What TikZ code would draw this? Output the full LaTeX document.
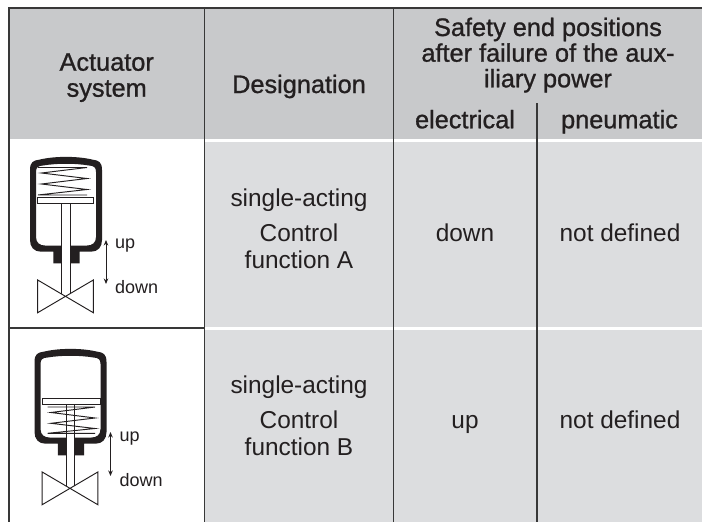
\documentclass[tikz,border=0pt]{standalone}
\usepackage{fontspec}
\setmainfont{Liberation Sans}
\newfontface\hdrfont{Liberation Sans}[FakeBold=1.0]
\usetikzlibrary{arrows.meta}
\definecolor{hdrgray}{HTML}{C8C9CB}
\definecolor{bodygray}{HTML}{DCDDDF}
\definecolor{rulecol}{HTML}{383838}
\definecolor{ink}{HTML}{231F20}
\newcommand\actuatorhousing{%
  \fill[ink] (53.3,263.3) -- (53.3,251.7) -- (41,251.7)
    .. controls (34,251.7) and (30,247) .. (30,240) -- (30,170)
    .. controls (30,162) and (33,160.5) .. (40,159.5)
    .. controls (55,156) and (77,156) .. (92,159.5)
    .. controls (99,160.5) and (102,162) .. (102,170) -- (102,240)
    .. controls (102,247) and (98,251.7) .. (91,251.7)
    -- (79.5,251.7) -- (79.5,263.3) -- (70.5,263.3) -- (70.5,245.5) -- (87,245.5)
    .. controls (92,245.5) and (96,243) .. (96,237) -- (96,172)
    .. controls (96,167) and (94,166) .. (89,165.5)
    .. controls (75,163.2) and (57,163.2) .. (43,165.5)
    .. controls (38,166) and (36,167) .. (36,172) -- (36,237)
    .. controls (36,243) and (40,245.5) .. (45,245.5)
    -- (61.5,245.5) -- (61.5,263.3) -- cycle;
  \draw[thinline] (37.7,280) -- (37.7,312.7) -- (93.3,280) -- (93.3,312.7) -- cycle;
}
\begin{document}
\begin{tikzpicture}[x=1pt,y=-1pt,
  hdr/.style={anchor=base, inner sep=0pt, text=ink, font=\hdrfont\fontsize{25.3}{26}\selectfont},
  body/.style={anchor=base, inner sep=0pt, text=ink, font=\fontsize{24.4}{26}\selectfont},
  small/.style={anchor=base west, inner sep=0pt, text=ink, font=\fontsize{18}{20}\selectfont},
  rule/.style={draw=rulecol, line width=1.7pt},
  thinline/.style={draw=ink, line width=0.95pt},
  dblarrow/.style={draw=ink, line width=0.9pt, {Stealth[length=5.5pt,width=4.5pt]}-{Stealth[length=5.5pt,width=4.5pt]}}
]
\useasboundingbox (0,0) rectangle (702,522);
\fill[white] (0,0) rectangle (702,522);
% backgrounds
\fill[hdrgray] (9,8) rectangle (702,139);
\fill[bodygray] (204.5,141.5) rectangle (702,327);
\fill[bodygray] (204.5,329.5) rectangle (702,522);
% rules
\draw[rule, line width=1.5pt] (8.2,8) -- (702,8);
\draw[rule] (9,8) -- (9,522);
\draw[rule] (204.5,8) -- (204.5,522);
\draw[rule] (393.5,8) -- (393.5,522);
\draw[rule] (537,103) -- (537,522);
\draw[rule] (9,328) -- (204.5,328);
% header texts
\node[hdr] (h1a) at (106.7,70.7) {Actuator};
\node[hdr] (h1b) at (106.7,96.7) {system};
\node[hdr] (h2) at (299,93) {Designation};
\node[hdr] (h3a) at (548,36) {Safety end positions};
\node[hdr] (h3b) at (548,61.7) {after failure of the aux-};
\node[hdr] (h3c) at (548,87.3) {iliary power};
\node[hdr] (h4) at (465,128.3) {electrical};
\node[hdr] (h5) at (619.5,128.3) {pneumatic};
% row 1
\node[body] (r1a) at (299,206) {single-acting};
\node[body] (r1b) at (299,241.7) {Control};
\node[body] (r1c) at (299,268) {function A};
\node[body] (r1e) at (465,241.7) {down};
\node[body] (r1p) at (620,241.7) {not defined};
% row 2
\node[body] (r2a) at (299,393) {single-acting};
\node[body] (r2b) at (299,428.7) {Control};
\node[body] (r2c) at (299,455) {function B};
\node[body] (r2e) at (465,428.7) {up};
\node[body] (r2p) at (620,428.7) {not defined};
% actuator 1 (spring above piston)
\actuatorhousing
\draw[thinline] (38,167.5) -- (87,167.5) -- (41.5,173) -- (87,178.5) -- (41.5,184) -- (87,189.5) -- (38,195) -- (87,195);
\draw[thinline] (61.8,203.3) -- (61.8,294) (70.2,203.3) -- (70.2,294);
\draw[thinline, fill=white] (37.7,197.7) rectangle (93.3,203.3);
\coordinate (a1t) at (106,240);
\coordinate (a1b) at (106,284);
\draw[dblarrow] (a1t) -- (a1b);
\node[small] (up1) at (115,248.3) {up};
\node[small] (dn1) at (115,293.3) {down};
% actuator 2 (spring below piston)
\begin{scope}[shift={(4.5,192)}]
\actuatorhousing
\draw[thinline, fill=white] (38.2,206) rectangle (95.5,212);
\draw[thinline] (43.2,215) -- (90.5,215) -- (46.5,220.5) -- (90.5,226) -- (46.5,231.3) -- (90.5,236.5) -- (43.2,241.3) -- (90.5,241.3);
\draw[thinline] (61.8,212) -- (61.8,294) (70.2,212) -- (70.2,294);
\coordinate (a2t) at (106,240);
\coordinate (a2b) at (106,284);
\draw[dblarrow] (a2t) -- (a2b);
\node[small] (up2) at (115,249.7) {up};
\node[small] (dn2) at (115,294.7) {down};
\end{scope}
\end{tikzpicture}
\end{document}
